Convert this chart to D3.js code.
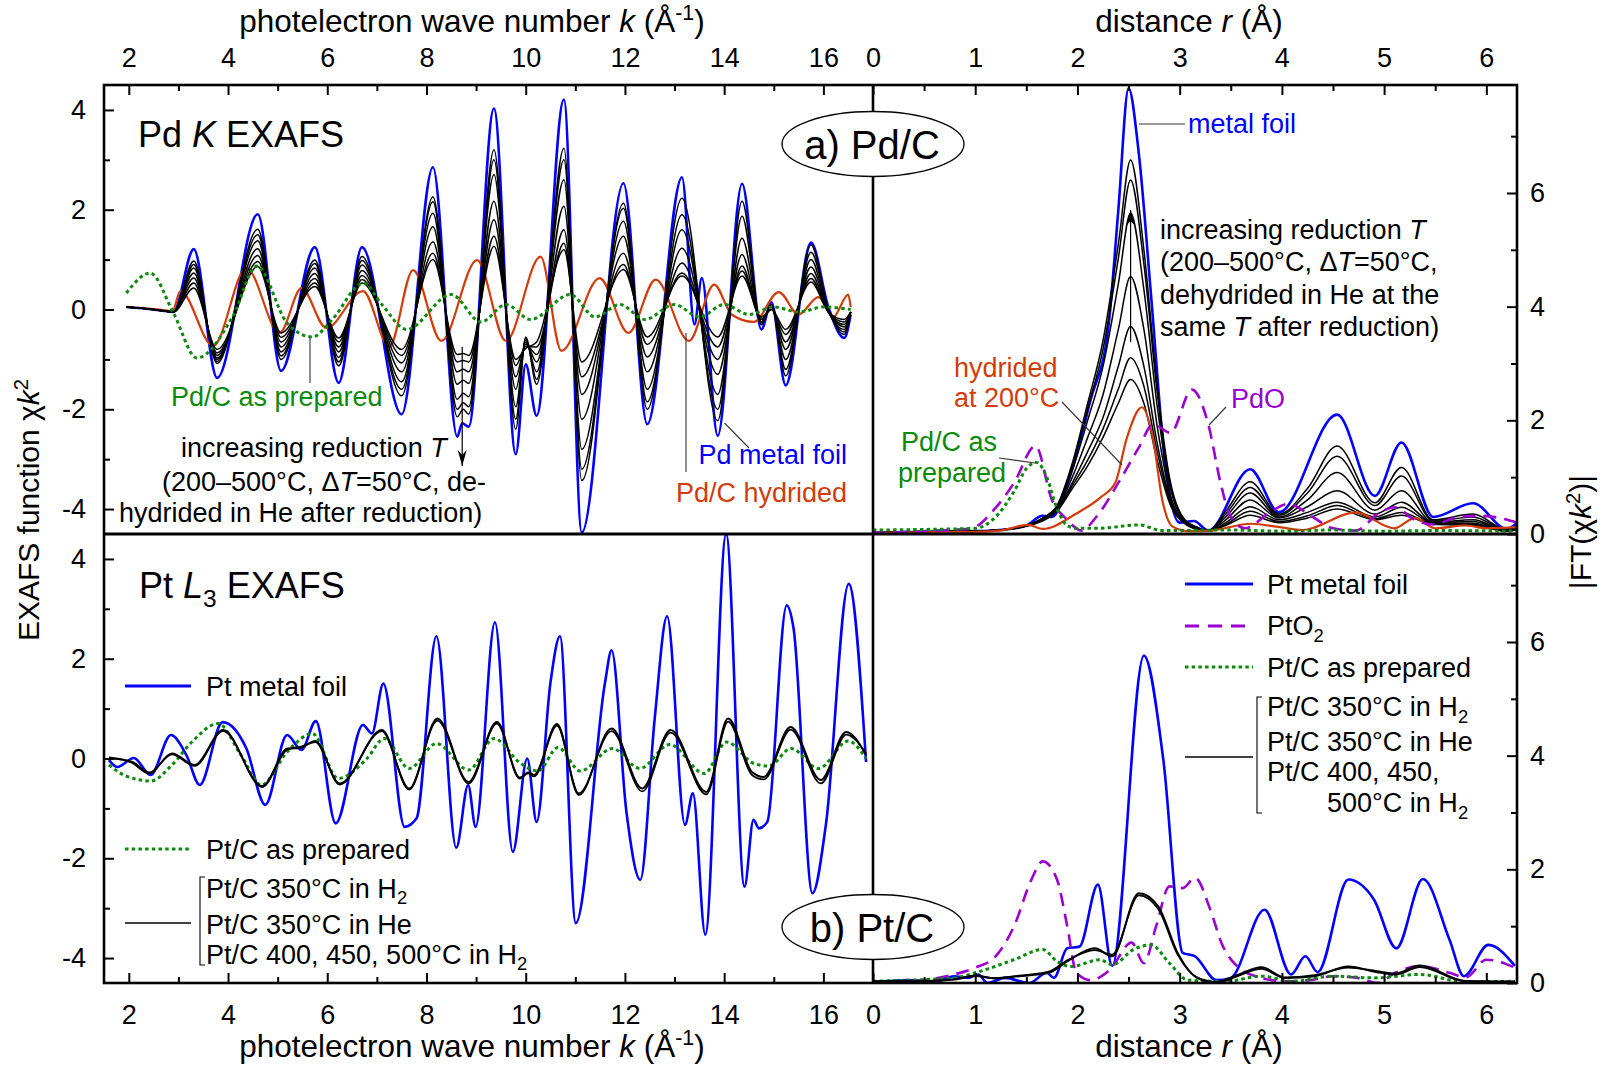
<!DOCTYPE html>
<html><head><meta charset="utf-8">
<script src="https://cdn.jsdelivr.net/npm/d3@7"></script>
<style>
html,body{margin:0;padding:0;background:#fff;}
svg{display:block;font-family:"Liberation Sans",Arial,Helvetica,sans-serif;}
</style></head><body>
<svg id="chart" width="1606" height="1065"></svg>
<script>
// ---------- Pd K edge, k-space (chi*k^2) ----------
const pdFoilK   = [1.95,2.5,2.9,3.31,3.78,4.6,5.07,5.75,6.23,6.7,7.5,8.13,8.62,8.72,8.85,9.36,9.8,10.0,10.22,10.77,11.13,11.97,12.45,13.15,13.4,13.55,13.87,14.36,14.75,14.95,15.24,15.75,16.1,16.42,16.55];
const pdFoilChi = [0.05,0.0,-0.05,1.21,-1.37,1.91,-1.23,1.25,-1.47,1.25,-2.1,2.85,-2.55,-2.28,-2.35,4.03,-2.9,-1.1,-2.13,4.21,-4.47,2.53,-2.3,2.65,-0.3,0.63,-2.53,2.52,-0.4,0.15,-1.52,1.34,0.05,-0.57,-0.1];

const pdRedK   = [1.95,2.5,2.9,3.31,3.78,4.6,5.07,5.75,6.23,6.7,7.5,8.13,8.62,8.74,8.85,9.36,9.8,10.0,10.22,10.77,11.13,11.97,12.45,13.15,13.87,14.36,14.75,14.95,15.24,15.75,16.1,16.42,16.55];
// reduced + dehydrided samples, one row per reduction temperature
const pdRed500 = [0.05,0,-0.05,0.97,-1.08,1.61,-1.0,0.99,-1.13,1.06,-1.73,2.26,-2.15,-2.0,-2.1,3.2,-2.4,-0.55,-1.5,3.23,-3.43,2.13,-2.0,2.23,-2.23,2.17,-0.3,0.1,-1.33,1.3,0.0,-0.5,-0.05];
const pdRed450 = [0.05,0,-0.05,0.9,-1.04,1.5,-0.93,0.92,-1.05,0.98,-1.6,2.16,-2.0,-1.87,-1.95,3.0,-2.2,-0.58,-1.4,3.0,-3.2,2.03,-1.85,1.9,-2.0,1.87,-0.3,0.1,-1.2,1.15,0.0,-0.45,-0.05];
const pdRed400 = [0.05,0,-0.05,0.83,-1.0,1.38,-0.85,0.83,-0.96,0.89,-1.45,1.93,-1.8,-1.68,-1.75,2.7,-1.95,-0.62,-1.25,2.6,-2.8,1.77,-1.6,1.6,-1.7,1.43,-0.25,0.05,-1.0,1.0,-0.05,-0.4,-0.05];
const pdRed350 = [0.05,0,-0.05,0.73,-0.97,1.22,-0.75,0.72,-0.85,0.78,-1.25,1.66,-1.5,-1.42,-1.48,2.17,-1.6,-0.66,-1.05,2.07,-2.2,1.47,-1.25,1.23,-1.3,1.1,-0.25,0.05,-0.8,0.85,-0.05,-0.35,-0.05];
const pdRed300 = [0.05,0,-0.05,0.63,-0.92,1.08,-0.65,0.62,-0.75,0.68,-1.07,1.36,-1.25,-1.2,-1.25,1.8,-1.35,-0.7,-0.9,1.6,-1.7,1.13,-0.95,0.93,-1.0,0.87,-0.2,0.05,-0.65,0.72,-0.05,-0.3,-0.05];
const pdRed250 = [0.05,0,-0.05,0.53,-0.87,0.96,-0.56,0.53,-0.65,0.6,-0.92,1.13,-1.05,-1.02,-1.05,1.47,-1.12,-0.74,-0.75,1.33,-1.35,0.9,-0.7,0.73,-0.75,0.77,-0.2,0.0,-0.5,0.62,-0.05,-0.25,-0.05];
const pdRed200 = [0.05,0,-0.05,0.43,-0.8,0.86,-0.47,0.46,-0.57,0.53,-0.8,1.0,-0.9,-0.88,-0.92,1.27,-1.0,-0.78,-0.65,1.2,-1.05,0.8,-0.55,0.67,-0.55,0.67,-0.15,0.0,-0.4,0.55,-0.05,-0.2,-0.05];

const pdHydK   = [1.95,2.6,2.88,3.04,3.7,4.37,5.04,5.48,5.98,6.72,7.25,7.73,8.3,9.02,9.6,10.3,10.72,11.49,12.07,12.62,13.29,13.8,14.15,14.6,15.1,15.5,15.9,16.2,16.5,16.55];
const pdHydChi = [0.05,0.0,-0.03,0.37,-0.73,0.83,-0.47,0.43,-0.37,0.37,-0.75,0.79,-0.63,0.99,-0.63,1.06,-0.83,0.63,-0.47,0.6,-0.63,0.5,-0.1,-0.25,0.35,-0.1,0.25,-0.15,0.3,0.05];

const pdPrepK   = [1.95,2.43,2.9,3.37,4.1,4.58,5.19,5.7,6.1,6.73,7.1,7.6,8.5,9.1,9.6,10.1,10.9,11.4,11.9,12.4,13.0,13.5,14.0,14.5,15.0,15.5,16.0,16.55];
const pdPrepChi = [0.33,0.73,-0.07,-0.97,-0.13,0.87,-0.27,-0.55,-0.2,0.53,0.1,-0.4,0.3,-0.25,0.1,-0.2,0.3,-0.15,0.1,-0.2,0.1,-0.15,0.1,-0.1,0.05,-0.05,0.05,0.0];

// ---------- Pd K edge, r-space |FT| ----------
const pdFoilR  = [0,0.5,1.0,1.3,1.5,1.66,1.75,1.94,2.13,2.3,2.4,2.5,2.6,2.72,2.86,3.0,3.14,3.28,3.69,3.97,4.54,4.91,5.17,5.48,5.87,6.2,6.3];
const pdFoilFt = [0.02,0.04,0.05,0.08,0.15,0.32,0.3,1.09,2.37,3.6,5.7,7.84,6.7,4.2,1.2,0.2,0.23,0.06,1.14,0.38,2.1,0.67,1.61,0.3,0.54,0.09,0.2];

const pdRedR    = [0,0.5,1.0,1.3,1.55,1.66,1.8,1.95,2.1,2.25,2.4,2.52,2.65,2.78,2.9,3.05,3.17,3.28,3.45,3.69,3.97,4.25,4.54,4.91,5.17,5.48,5.87,6.2,6.3];
const pdRedFt500 = [0.02,0.04,0.05,0.08,0.18,0.28,0.5,1.25,2.3,3.4,5.1,6.58,5.0,2.6,1.0,0.25,0.12,0.05,0.4,0.92,0.35,0.8,1.55,0.55,1.17,0.25,0.35,0.08,0.15];
const pdRedFt450 = [0.02,0.04,0.05,0.08,0.18,0.28,0.49,1.2,2.2,3.25,4.85,6.23,4.75,2.5,0.95,0.24,0.12,0.05,0.35,0.82,0.33,0.72,1.37,0.5,1.02,0.23,0.3,0.07,0.13];
const pdRedFt400 = [0.02,0.04,0.05,0.08,0.18,0.27,0.47,1.12,2.0,2.95,4.4,5.65,4.3,2.25,0.88,0.23,0.11,0.05,0.3,0.72,0.3,0.6,1.08,0.42,0.76,0.21,0.25,0.06,0.11];
const pdRedFt350 = [0.02,0.04,0.05,0.08,0.17,0.26,0.44,1.0,1.7,2.45,3.6,4.53,3.6,1.9,0.75,0.21,0.1,0.05,0.25,0.6,0.28,0.48,0.76,0.35,0.56,0.2,0.22,0.06,0.1];
const pdRedFt300 = [0.02,0.04,0.05,0.08,0.17,0.25,0.42,0.9,1.45,2.05,2.95,3.65,2.95,1.6,0.65,0.2,0.09,0.05,0.2,0.48,0.25,0.38,0.56,0.3,0.47,0.19,0.19,0.05,0.09];
const pdRedFt250 = [0.02,0.04,0.05,0.08,0.16,0.24,0.41,0.85,1.3,1.85,2.55,3.1,2.6,1.45,0.6,0.19,0.09,0.05,0.17,0.4,0.22,0.32,0.5,0.27,0.38,0.18,0.17,0.05,0.08];
const pdRedFt200 = [0.02,0.04,0.05,0.08,0.16,0.23,0.4,0.8,1.2,1.7,2.3,2.72,2.3,1.3,0.55,0.18,0.08,0.05,0.15,0.33,0.2,0.28,0.44,0.25,0.33,0.17,0.15,0.05,0.07];

const pdHydR  = [0,0.5,1.0,1.24,1.52,1.66,1.99,2.23,2.37,2.48,2.63,2.74,2.83,2.93,3.1,3.3,3.7,3.98,4.2,4.72,5.1,5.3,5.5,5.8,6.0,6.3];
const pdHydFt = [0.02,0.03,0.04,0.06,0.16,0.09,0.36,0.65,0.9,1.67,2.23,1.67,0.6,0.13,0.05,0.06,0.18,0.12,0.07,0.38,0.1,0.28,0.1,0.15,0.1,0.12];

const pdOxR  = [0,0.5,0.96,1.19,1.38,1.59,1.75,1.9,2.04,2.18,2.41,2.6,2.74,2.91,3.12,3.28,3.4,3.5,3.64,3.88,4.06,4.3,4.5,4.72,4.96,5.1,5.3,5.48,5.73,5.95,6.3];
const pdOxFt = [0.02,0.05,0.1,0.44,0.9,1.55,0.6,0.25,0.06,0.29,0.93,1.52,1.93,1.78,2.54,1.93,0.9,0.3,0.1,0.38,0.53,0.3,0.1,0.06,0.38,0.47,0.25,0.17,0.3,0.32,0.2];

const pdPrepR  = [0,0.5,1.0,1.2,1.38,1.5,1.6,1.7,1.8,1.9,2.0,2.2,2.6,2.83,3.5,4.0,4.5,5.0,5.5,6.3];
const pdPrepFt = [0.07,0.08,0.1,0.3,0.75,1.15,1.26,1.0,0.45,0.15,0.1,0.1,0.16,0.06,0.07,0.05,0.07,0.05,0.06,0.05];

// ---------- Pt L3 edge, k-space ----------
const ptFoilK   = [1.6,1.77,2.1,2.44,2.85,3.16,3.43,3.89,4.37,4.75,5.19,5.48,5.77,6.17,6.72,6.9,7.13,7.56,7.8,8.2,8.6,8.84,8.99,9.38,9.74,10.03,10.22,10.5,10.69,11.01,11.6,11.73,12.03,12.31,12.6,12.85,13.21,13.37,13.62,14.04,14.41,14.59,14.7,14.87,15.26,15.4,15.78,16.05,16.51,16.86];
const ptFoilChi = [-0.03,-0.17,0.01,-0.33,0.47,0.07,-0.53,0.73,0.2,-0.93,0.47,0.17,0.75,-1.3,0.67,0.5,1.5,-1.37,-1.2,2.45,-1.79,-0.53,-1.37,2.73,-1.87,0.0,-1.27,1.53,2.45,-3.3,1.53,2.17,-1.07,-2.43,0.8,2.85,-1.33,-0.7,-3.53,4.5,-2.57,-1.23,-1.4,-1.27,3.07,2.6,-2.7,-1.33,3.5,-0.07];

const ptRedK   = [1.6,2.06,2.41,2.87,3.33,3.9,4.69,5.2,5.44,5.76,6.25,7.1,7.65,8.22,8.85,9.42,9.88,10.05,10.17,10.63,11.07,11.73,12.35,12.92,13.64,14.08,14.56,14.8,15.34,15.95,16.46,16.86];
const ptRedChi = [0.02,-0.08,-0.3,0.1,-0.13,0.57,-0.57,0.2,0.21,0.35,-0.52,0.57,-0.62,0.8,-0.47,0.73,-0.4,-0.28,-0.33,0.69,-0.73,0.6,-0.6,0.57,-0.67,0.8,-0.27,-0.37,0.63,-0.43,0.53,0.07];
const ptRedChiB = [0.0,-0.06,-0.28,0.08,-0.15,0.55,-0.55,0.18,0.23,0.33,-0.5,0.55,-0.6,0.76,-0.5,0.7,-0.38,-0.3,-0.36,0.66,-0.7,0.55,-0.66,0.52,-0.72,0.74,-0.33,-0.42,0.58,-0.5,0.48,0.1];

const ptPrepK   = [1.6,1.9,2.45,2.87,3.27,3.8,4.26,4.67,5.19,5.7,6.22,6.8,7.15,7.65,8.2,8.85,9.36,9.9,10.25,10.65,11.1,11.75,12.3,12.9,13.6,14.05,14.6,14.9,15.35,15.9,16.5,16.86];
const ptPrepChi = [-0.13,-0.33,-0.45,-0.13,0.33,0.7,0.07,-0.53,0.13,0.5,-0.4,0.0,0.4,-0.2,0.3,-0.23,0.4,-0.1,-0.25,0.22,-0.25,0.2,-0.2,0.28,-0.3,0.33,-0.1,-0.15,0.2,-0.2,0.35,0.0];

// ---------- Pt L3 edge, r-space ----------
const ptFoilR  = [0,0.33,0.62,0.79,0.93,1.03,1.12,1.29,1.53,1.7,1.77,1.9,2.02,2.2,2.34,2.65,2.84,3.03,3.15,3.36,3.5,3.83,4.09,4.23,4.35,4.65,4.9,5.12,5.38,5.64,5.78,6.02,6.28];
const ptFoilFt = [0,0.05,0.03,0.12,0.09,0.15,0.0,0.09,0.0,0.18,0.09,0.61,0.64,1.73,0.3,5.76,3.93,0.53,0.47,0.05,0.09,1.29,0.15,0.47,0.19,1.82,1.47,0.61,1.83,0.76,0.12,0.67,0.3];

const ptOxR  = [0,0.5,0.72,1.0,1.19,1.38,1.55,1.66,1.8,1.9,1.99,2.13,2.32,2.53,2.65,2.77,2.9,3.03,3.15,3.3,3.41,3.56,3.8,4.03,4.27,4.5,4.74,4.93,5.11,5.35,5.64,5.8,6.0,6.28];
const ptOxFt = [0.02,0.05,0.12,0.27,0.45,1.0,1.82,2.14,1.82,1.0,0.18,0.05,0.24,0.71,0.35,1.0,1.7,1.67,1.85,1.29,0.7,0.3,0.09,0.03,0.05,0.12,0.09,0.0,0.18,0.3,0.18,0.1,0.41,0.27];

const ptPrepR  = [0,0.5,0.8,1.0,1.38,1.66,1.8,1.94,2.22,2.34,2.55,2.72,2.9,3.08,3.45,3.8,4.1,4.5,4.9,5.35,5.79,6.28];
const ptPrepFt = [0.03,0.06,0.09,0.18,0.41,0.59,0.38,0.29,0.41,0.32,0.59,0.67,0.35,0.05,0.03,0.12,0.03,0.12,0.09,0.15,0.02,0.03];

const ptRedR   = [0,0.5,0.8,1.0,1.19,1.43,1.72,1.9,2.17,2.34,2.6,2.79,2.98,3.17,3.36,3.56,3.8,4.03,4.32,4.65,4.93,5.11,5.35,5.79,6.28];
const ptRedFt  = [0.03,0.03,0.06,0.13,0.08,0.12,0.18,0.38,0.61,0.47,1.58,1.35,0.53,0.09,0.0,0.12,0.25,0.09,0.12,0.29,0.19,0.15,0.28,0.03,0.02];
const ptRedFtB = [0.03,0.04,0.07,0.12,0.09,0.13,0.2,0.4,0.58,0.5,1.54,1.3,0.5,0.1,0.02,0.14,0.28,0.1,0.14,0.27,0.21,0.17,0.31,0.04,0.03];

// ---------- tick values ----------
const kMajor = [2,4,6,8,10,12,14,16];
const kMinor = [3,5,7,9,11,13,15];
const rMajor = [0,1,2,3,4,5,6];
const rMinor = [0.5,1.5,2.5,3.5,4.5,5.5];
const chiMajor = [-4,-2,0,2,4];
const chiMinor = [-3,-1,1,3];
const ftMajor = [0,2,4,6];
const ftMinor = [1,3,5,7];

// ---------- colours ----------
const BLUE = "#0000ff", RED = "#d23c0a", GREEN = "#0a8a0a", PURPLE = "#9b00d0";

const svg = d3.select("#chart");
const X0 = 104, XM = 873, X1 = 1517, Y0 = 85, YM = 534, Y1 = 983;

const kx = d3.scaleLinear().domain([1.5, 17]).range([X0, XM]);
const rx = d3.scaleLinear().domain([0, 6.3]).range([XM, X1]);
const chiTop = d3.scaleLinear().domain([-4.5, 4.5]).range([YM, Y0]);
const chiBot = d3.scaleLinear().domain([-4.5, 4.5]).range([Y1, YM]);
const ftTop = d3.scaleLinear().domain([0, 7.9]).range([YM, Y0]);
const ftBot = d3.scaleLinear().domain([0, 7.9]).range([Y1, YM]);

const defs = svg.append("defs");
function clip(id, x, y, w, h) {
  defs.append("clipPath").attr("id", id).append("rect").attr("x", x).attr("y", y).attr("width", w).attr("height", h);
  return svg.append("g").attr("clip-path", `url(#${id})`);
}
const gTL = clip("cTL", X0, Y0, XM - X0, YM - Y0);
const gTR = clip("cTR", XM, Y0, X1 - XM, YM - Y0);
const gBL = clip("cBL", X0, YM, XM - X0, Y1 - YM);
const gBR = clip("cBR", XM, YM, X1 - XM, Y1 - YM);

function curve(g, xs, ys, xS, yS, stroke, width, dash) {
  const pts = xs.map((x, i) => [x, ys[i]]);
  const p = g.append("path").datum(pts)
    .attr("d", d3.line().x(d => xS(d[0])).y(d => yS(d[1])).curve(d3.curveMonotoneX))
    .attr("fill", "none").attr("stroke", stroke).attr("stroke-width", width)
    .attr("stroke-linejoin", "round");
  if (dash) p.attr("stroke-dasharray", dash);
  return p;
}

const DOT = "3.5,3.2", DASH = "13,8";

// top-left: Pd chi(k)
curve(gTL, pdFoilK, pdFoilChi, kx, chiTop, BLUE, 2.6);
curve(gTL, pdHydK, pdHydChi, kx, chiTop, RED, 2.2);
[pdRed200, pdRed250, pdRed300, pdRed350, pdRed400, pdRed450, pdRed500].forEach(v =>
  curve(gTL, pdRedK, v, kx, chiTop, "#000", 1.5));
curve(gTL, pdPrepK, pdPrepChi, kx, chiTop, GREEN, 3, DOT);

// top-right: Pd |FT|
curve(gTR, pdFoilR, pdFoilFt, rx, ftTop, BLUE, 2.6);
[pdRedFt200, pdRedFt250, pdRedFt300, pdRedFt350, pdRedFt400, pdRedFt450, pdRedFt500].forEach(v =>
  curve(gTR, pdRedR, v, rx, ftTop, "#000", 1.5));
curve(gTR, pdHydR, pdHydFt, rx, ftTop, RED, 2.2);
curve(gTR, pdOxR, pdOxFt, rx, ftTop, PURPLE, 2.6, DASH);
curve(gTR, pdPrepR, pdPrepFt, rx, ftTop, GREEN, 3, DOT);

// bottom-left: Pt chi(k)
curve(gBL, ptFoilK, ptFoilChi, kx, chiBot, BLUE, 2.6);
curve(gBL, ptPrepK, ptPrepChi, kx, chiBot, GREEN, 3, DOT);
curve(gBL, ptRedK, ptRedChiB, kx, chiBot, "#000", 1.7);
curve(gBL, ptRedK, ptRedChi, kx, chiBot, "#000", 2);

// bottom-right: Pt |FT|
curve(gBR, ptFoilR, ptFoilFt, rx, ftBot, BLUE, 2.6);
curve(gBR, ptOxR, ptOxFt, rx, ftBot, PURPLE, 2.6, DASH);
curve(gBR, ptPrepR, ptPrepFt, rx, ftBot, GREEN, 3, DOT);
curve(gBR, ptRedR, ptRedFtB, rx, ftBot, "#000", 1.7);
curve(gBR, ptRedR, ptRedFt, rx, ftBot, "#000", 2);

// ---------- frame and dividers ----------
svg.append("rect").attr("x", X0).attr("y", Y0).attr("width", X1 - X0).attr("height", Y1 - Y0)
  .attr("fill", "none").attr("stroke", "#000").attr("stroke-width", 2.6);
svg.append("line").attr("x1", X0).attr("x2", X1).attr("y1", YM).attr("y2", YM).attr("stroke", "#000").attr("stroke-width", 3);
svg.append("line").attr("x1", XM).attr("x2", XM).attr("y1", Y0).attr("y2", Y1).attr("stroke", "#000").attr("stroke-width", 2.6);

// ---------- axes ----------
const TICKFS = 27;
function styleAxis(g) {
  g.select(".domain").remove();
  g.selectAll(".tick line").attr("stroke", "#000").attr("stroke-width", 2);
  g.selectAll("text").attr("font-size", TICKFS).attr("fill", "#000")
    .attr("font-family", '"Liberation Sans",Arial,sans-serif');
}
function axisPair(gen, scale, major, minor, tx, ty, pad) {
  const a = svg.append("g").attr("transform", `translate(${tx},${ty})`)
    .call(gen(scale).tickValues(major).tickSize(-10).tickPadding(pad).tickFormat(d => String(d)));
  styleAxis(a);
  const b = svg.append("g").attr("transform", `translate(${tx},${ty})`)
    .call(gen(scale).tickValues(minor).tickSize(-6).tickFormat(""));
  styleAxis(b);
  return a;
}
axisPair(d3.axisTop, kx, kMajor, kMinor, 0, Y0, 18);
axisPair(d3.axisBottom, kx, kMajor, kMinor, 0, Y1, 22);
axisPair(d3.axisTop, rx, rMajor, rMinor, 0, Y0, 18);
axisPair(d3.axisBottom, rx, rMajor, rMinor, 0, Y1, 22);
axisPair(d3.axisLeft, chiTop, chiMajor, chiMinor, X0, 0, 18);
axisPair(d3.axisLeft, chiBot, chiMajor, chiMinor, X0, 0, 18);
axisPair(d3.axisRight, ftTop, ftMajor, ftMinor, X1, 0, 13);
axisPair(d3.axisRight, ftBot, ftMajor, ftMinor, X1, 0, 13);

// ---------- rich text helper (<i>, <sub>, <sup>) ----------
function rich(parent, x, y, markup, opt = {}) {
  const fs = opt.size || 27;
  const t = parent.append("text").attr("x", x).attr("y", y)
    .attr("font-size", fs).attr("fill", opt.fill || "#000")
    .attr("text-anchor", opt.anchor || "start");
  if (opt.transform) t.attr("transform", opt.transform);
  const tokens = markup.split(/(<\/?(?:i|sub|sup)>)/);
  let italic = false, mode = null, shift = 0;
  tokens.forEach(tok => {
    if (tok === "<i>") { italic = true; return; }
    if (tok === "</i>") { italic = false; return; }
    if (tok === "<sub>") { mode = "sub"; return; }
    if (tok === "<sup>") { mode = "sup"; return; }
    if (tok === "</sub>" || tok === "</sup>") { mode = null; return; }
    if (!tok) return;
    const target = mode === "sub" ? fs * 0.25 : mode === "sup" ? -fs * 0.38 : 0;
    const ts = t.append("tspan").text(tok).attr("dy", target - shift);
    shift = target;
    if (mode) ts.attr("font-size", fs * 0.68);
    if (italic) ts.attr("font-style", "italic");
  });
  return t;
}

// axis titles
rich(svg, 472, 32, "photelectron wave number <i>k</i> (Å<sup>-1</sup>)", {size: 31.5, anchor: "middle"});
rich(svg, 472, 1057, "photelectron wave number <i>k</i> (Å<sup>-1</sup>)", {size: 31.5, anchor: "middle"});
rich(svg, 1189, 32, "distance <i>r</i> (Å)", {size: 31.5, anchor: "middle"});
rich(svg, 1189, 1057, "distance <i>r</i> (Å)", {size: 31.5, anchor: "middle"});
rich(svg, 0, 0, "EXAFS function χ<i>k</i><sup>2</sup>", {size: 30, anchor: "middle", transform: "translate(39,510) rotate(-90)"});
rich(svg, 0, 0, "|FT(χ<i>k</i><sup>2</sup>)|", {size: 30, anchor: "middle", transform: "translate(1591,532) rotate(-90)"});

// panel titles
rich(svg, 138, 147, "Pd <i>K</i> EXAFS", {size: 36});
rich(svg, 139, 598, "Pt <i>L</i><sub>3</sub> EXAFS", {size: 36});

// panel badges
function badge(cy, label) {
  svg.append("ellipse").attr("cx", XM).attr("cy", cy).attr("rx", 91).attr("ry", 32.5)
    .attr("fill", "#fff").attr("stroke", "#000").attr("stroke-width", 1.3);
  rich(svg, XM - 1, cy + 14.5, label, {size: 40, anchor: "middle"});
}
badge(144, "a) Pd/C");
badge(927, "b) Pt/C");

// ---------- annotations, top-left ----------
function leader(x1, y1, x2, y2) {
  svg.append("line").attr("x1", x1).attr("y1", y1).attr("x2", x2).attr("y2", y2)
    .attr("stroke", "#333").attr("stroke-width", 1.1);
}
leader(310, 338, 310, 383);
rich(svg, 171, 406, "Pd/C as prepared", {fill: GREEN});
rich(svg, 181, 457, "increasing reduction <i>T</i>");
rich(svg, 162, 491, "(200–500°C, Δ<i>T</i>=50°C, de-");
rich(svg, 119, 522, "hydrided in He after reduction)");
leader(749, 448, 724.5, 423);
rich(svg, 847, 464, "Pd metal foil", {fill: BLUE, anchor: "end"});
leader(686, 333, 686, 472);
rich(svg, 847, 502, "Pd/C hydrided", {fill: RED, anchor: "end"});

function arrow(x, yFrom, yTo) {
  svg.append("line").attr("x1", x).attr("x2", x).attr("y1", yFrom).attr("y2", yTo)
    .attr("stroke", "#000").attr("stroke-width", 1.2);
  const dir = yTo > yFrom ? 1 : -1;
  svg.append("path")
    .attr("d", `M${x},${yTo} L${x - 4.5},${yTo - dir * 16} L${x},${yTo - dir * 11} L${x + 4.5},${yTo - dir * 16} Z`)
    .attr("fill", "#000");
}
arrow(kx(8.72), 347, 466);

// ---------- annotations, top-right ----------
leader(1139, 124, 1185, 124);
rich(svg, 1188, 133, "metal foil", {fill: BLUE});
arrow(rx(2.52), 342, 210);
rich(svg, 1160, 238.5, "increasing reduction <i>T</i>");
rich(svg, 1160, 271, "(200–500°C, Δ<i>T</i>=50°C,");
rich(svg, 1160, 304, "dehydrided in He at the");
rich(svg, 1160, 336, "same <i>T</i> after reduction)");
rich(svg, 954, 377, "hydrided", {fill: RED});
rich(svg, 954, 407, "at 200°C", {fill: RED});
leader(1062, 402, 1122, 465);
rich(svg, 1231, 408, "PdO", {fill: PURPLE});
leader(1226, 407, 1209, 425);
rich(svg, 901, 451, "Pd/C as", {fill: GREEN});
rich(svg, 898, 482, "prepared", {fill: GREEN});
leader(999, 458, 1035, 463);

// ---------- legends ----------
function legendLine(x1, x2, y, stroke, width, dash) {
  const l = svg.append("line").attr("x1", x1).attr("x2", x2).attr("y1", y).attr("y2", y)
    .attr("stroke", stroke).attr("stroke-width", width);
  if (dash) l.attr("stroke-dasharray", dash);
}
function bracket(x, yTop, yBot) {
  svg.append("path").attr("d", `M${x + 5},${yTop} L${x},${yTop} L${x},${yBot} L${x + 5},${yBot}`)
    .attr("fill", "none").attr("stroke", "#000").attr("stroke-width", 1.1);
}
// bottom-left
legendLine(125, 191, 686, BLUE, 3);
rich(svg, 206, 695.5, "Pt metal foil");
legendLine(125, 191, 849, GREEN, 3, DOT);
rich(svg, 206, 858.5, "Pt/C as prepared");
bracket(200, 877, 965);
legendLine(125, 191, 923, "#000", 1.6);
rich(svg, 206, 897.5, "Pt/C 350°C in H<sub>2</sub>");
rich(svg, 206, 933.5, "Pt/C 350°C in He");
rich(svg, 206, 963.5, "Pt/C 400, 450, 500°C in H<sub>2</sub>");
// bottom-right
legendLine(1185, 1253, 584, BLUE, 3);
rich(svg, 1267, 593.5, "Pt metal foil");
legendLine(1185, 1253, 626, PURPLE, 3, "14,9");
rich(svg, 1267, 635, "PtO<sub>2</sub>");
legendLine(1185, 1253, 667, GREEN, 3, DOT);
rich(svg, 1267, 676.5, "Pt/C as prepared");
bracket(1257, 697, 813);
legendLine(1185, 1253, 757, "#000", 1.6);
rich(svg, 1267, 716, "Pt/C 350°C in H<sub>2</sub>");
rich(svg, 1267, 751, "Pt/C 350°C in He");
rich(svg, 1267, 781, "Pt/C 400, 450,");
rich(svg, 1327, 812, "500°C in H<sub>2</sub>");
</script></body></html>
